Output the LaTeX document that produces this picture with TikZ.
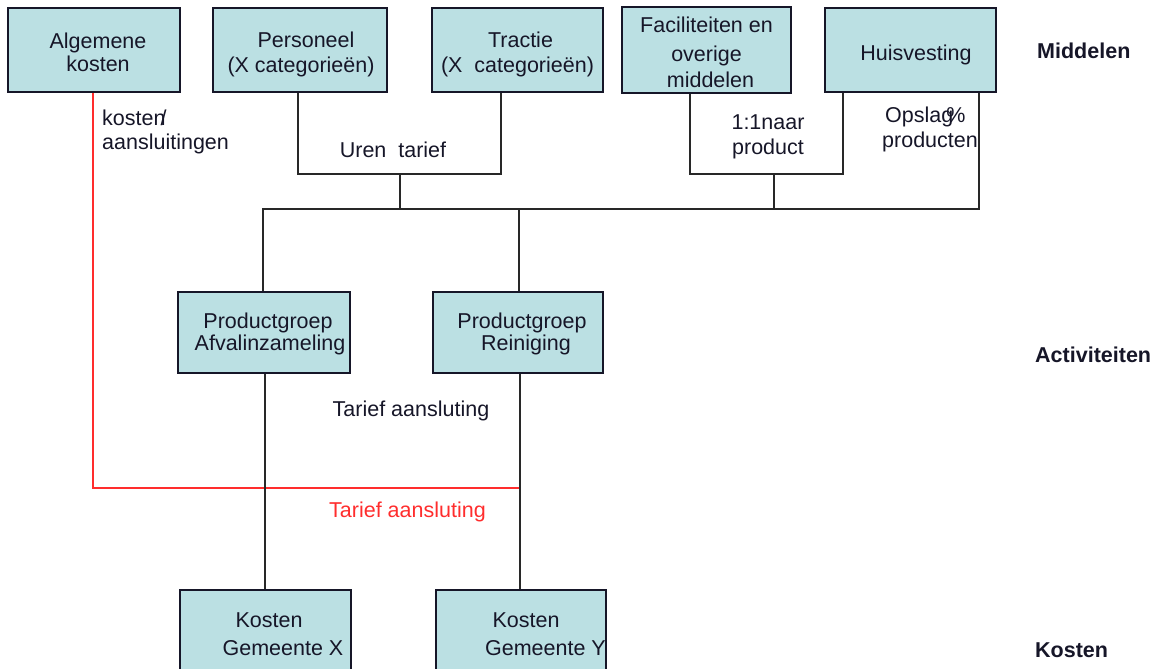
\documentclass[tikz,border=0pt]{standalone}
\usepackage{fontspec}
\setmainfont{Liberation Sans}
\definecolor{boxfill}{RGB}{187,224,227}
\definecolor{ink}{RGB}{22,22,40}
\definecolor{linec}{RGB}{40,40,40}
\definecolor{redl}{RGB}{255,45,45}
\newcommand\mainsize{\fontsize{21.5}{23}\selectfont}
\newcommand\shl[2]{\makebox[0pt]{\hspace*{#1}#2}}
\newcommand\topst[1]{\rule{0pt}{#1}}
\newcommand\botst{\rule[-5pt]{0pt}{5pt}}
\begin{document}
\begin{tikzpicture}[x=1pt,y=-1pt,
  box/.style={draw=ink, line width=1.6pt, fill=boxfill, inner sep=0pt, align=center, font=\mainsize, text=ink},
  conn/.style={draw=linec, line width=1.4pt},
  redconn/.style={draw=redl, line width=1.6pt},
  lbl/.style={inner sep=0pt, font=\mainsize, text=ink},
  side/.style={inner sep=0pt, font=\mainsize\bfseries, text=ink, anchor=base west}]
\useasboundingbox (0,0) rectangle (1157,669);
\clip (0,0) rectangle (1157,669);

% boxes
\node[box, minimum width=172pt, minimum height=84pt] (alg) at (94,50)
  {\shl{8pt}{\topst{26pt}Algemene}\\\shl{8pt}{kosten\botst}};
\node[box, minimum width=174pt, minimum height=84pt] (pers) at (300,50)
  {\shl{12pt}{\topst{26pt}Personeel}\\[2pt]\shl{2pt}{(X categorieën)\botst}};
\node[box, minimum width=171pt, minimum height=84pt] (tract) at (517.5,50)
  {\shl{6pt}{\topst{26pt}Tractie}\\[2pt]\shl{0pt}{(X~~categorieën)\botst}};
\node[box, minimum width=169pt, minimum height=84pt] (fac) at (706.5,50)
  {\shl{0pt}{\topst{26pt}Faciliteiten en}\\[6pt]\shl{0pt}{overige}\\[3pt]\shl{8pt}{middelen\botst}};
\node[box, minimum width=171pt, minimum height=84pt] (huis) at (910.5,50)
  {\shl{11pt}{\topst{25pt}Huisvesting\botst}};
\node[box, minimum width=172pt, minimum height=81pt] (pa) at (264,332.5)
  {\shl{8pt}{\topst{18pt}Productgroep}\\[-1pt]\shl{12pt}{Afvalinzameling\botst}};
\node[box, minimum width=170pt, minimum height=81pt] (pr) at (518,332.5)
  {\shl{8pt}{\topst{18pt}Productgroep}\\[-1pt]\shl{16pt}{Reiniging\botst}};
\node[box, minimum width=171pt, minimum height=81pt] (kx) at (265.5,630.5)
  {\shl{7pt}{\topst{26pt}Kosten}\\[5pt]\shl{35pt}{Gemeente X\botst}};
\node[box, minimum width=170pt, minimum height=81pt] (ky) at (521,630.5)
  {\shl{10pt}{\topst{26pt}Kosten}\\[5pt]\shl{49pt}{Gemeente Y\botst}};

% junction coordinates
\coordinate (pl) at (298,174);
\coordinate (tr) at (501,174);
\coordinate (j1) at (400,174);
\coordinate (fl) at (690,174);
\coordinate (hl) at (843,174);
\coordinate (j2) at (774,174);
\coordinate (bl) at (263,209);
\coordinate (br) at (979,209);
\coordinate (bm) at (519,209);
\coordinate (pax) at (265,0);
\coordinate (prx) at (520,0);
\coordinate (rx) at (93,488);
\coordinate (rend) at (520,488);

% red connector
\draw[redconn] (alg.south -| rx) -- (rx) -- (rend);

% black connectors
\draw[conn] (pers.south -| pl) -- (pl) -- (tr) -- (tract.south -| tr);
\draw[conn] (j1) -- (j1 |- bl);
\draw[conn] (fac.south -| fl) -- (fl) -- (hl) -- (huis.south -| hl);
\draw[conn] (j2) -- (j2 |- bl);
\draw[conn] (pa.north -| bl) -- (bl) -- (br) -- (huis.south -| br);
\draw[conn] (bm) -- (pr.north -| bm);
\draw[conn] (pa.south -| pax) -- (kx.north -| pax);
\draw[conn] (pr.south -| prx) -- (ky.north -| prx);

% labels
\node[lbl, align=left, anchor=west] (kl) at (102,132.4) {kosten\kern-5pt/\\[1pt]aansluitingen};
\node[lbl, anchor=base] (ut) at (393,157) {Uren~~tarief};
\node[lbl, align=center] (nr) at (768,137) {1:1naar\\[2pt]product};
\node[lbl, align=left, anchor=west] (op) at (882,129) {\hspace*{3pt}Opslag\kern-7pt\%\\[2pt]producten};
\node[lbl, anchor=base] (t1) at (411,416) {Tarief aansluting};
\node[lbl, anchor=base, text=redl] (t2) at (407.5,517) {Tarief aansluting};

\node[side] (mid) at (1037,59) {Middelen};
\node[side] (act) at (1035,362) {Activiteiten};
\node[side] (kos) at (1035,657) {Kosten};
\end{tikzpicture}
\end{document}
